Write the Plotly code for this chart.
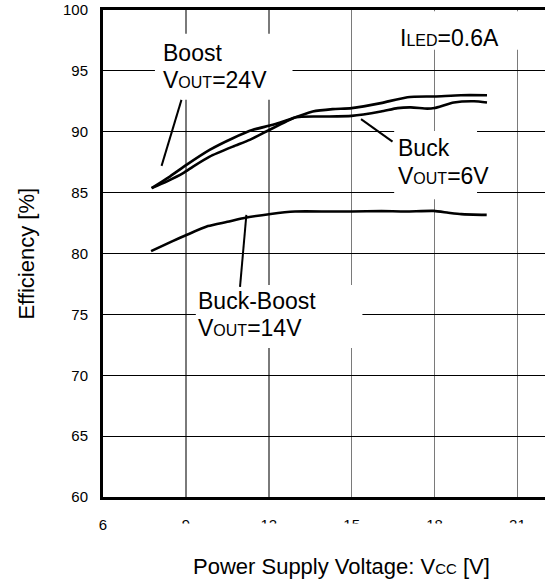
import plotly.graph_objects as go

# ---- data ----
boost_v = [7.76, 8.42, 9.02, 9.86, 10.70, 11.43, 12.15, 12.99, 13.59, 14.31, 15.0, 16.06, 17.02, 18.0, 18.95, 19.9]
boost_e = [85.37, 86.32, 87.28, 88.51, 89.47, 90.16, 90.57, 91.2, 91.66, 91.86, 91.94, 92.35, 92.84, 92.9, 93.0, 93.0]

buck_v = [7.76, 8.30, 8.90, 9.26, 9.86, 10.70, 11.31, 11.91, 12.63, 12.99, 13.9, 15.0, 16.06, 16.66, 17.14, 17.74, 18.0, 18.7, 19.43, 19.9]
buck_e = [85.37, 85.91, 86.6, 87.14, 87.96, 88.78, 89.33, 90.02, 90.84, 91.2, 91.25, 91.3, 91.66, 91.94, 92.0, 91.9, 91.95, 92.4, 92.5, 92.4]

bb_v = [7.74, 8.5, 9.0, 9.8, 10.5, 11.07, 12.07, 12.95, 14.2, 15.0, 16.08, 16.96, 17.97, 18.5, 18.97, 19.89]
bb_e = [80.2, 81.0, 81.5, 82.25, 82.6, 82.9, 83.25, 83.45, 83.45, 83.45, 83.48, 83.45, 83.5, 83.35, 83.23, 83.17]

x_ticks = [6, 9, 12, 15, 18, 21]
y_ticks = [60, 65, 70, 75, 80, 85, 90, 95, 100]

FONT = "Liberation Sans, Arial, Helvetica, sans-serif"
SUB = '<span style="font-size:16px">{}</span>'

fig = go.Figure()
for xs, ys, name in [(boost_v, boost_e, "Boost"), (buck_v, buck_e, "Buck"), (bb_v, bb_e, "Buck-Boost")]:
    fig.add_trace(go.Scatter(x=xs, y=ys, mode="lines", name=name,
                             line=dict(color="black", width=2.6, shape="spline", smoothing=0.6),
                             showlegend=False, hoverinfo="skip"))

shapes = []
# white label backgrounds (between gridlines and traces)
for x0, x1, y0, y1 in [(7.88, 12.86, 92.62, 98.05),
                       (16.0, 23.0, 96.73, 99.9),
                       (16.54, 19.54, 84.45, 90.07),
                       (9.36, 15.39, 72.24, 77.42)]:
    shapes.append(dict(type="rect", xref="x", yref="y", x0=x0, x1=x1, y0=y0, y1=y1,
                       fillcolor="white", line=dict(width=0), layer="between"))
# leader lines
for x0, y0, x1, y1 in [(8.84, 92.62, 8.12, 87.2),
                       (15.34, 91.04, 16.48, 89.19),
                       (11.19, 83.17, 10.96, 77.26)]:
    shapes.append(dict(type="line", xref="x", yref="y", x0=x0, y0=y0, x1=x1, y1=y1,
                       line=dict(color="black", width=2), layer="above"))
# clip lower half of the x tick labels 9..21 as in the reference
shapes.append(dict(type="rect", xref="paper", yref="paper", x0=0.03, x1=1.02, y0=-0.098, y1=-0.0545,
                   fillcolor="white", line=dict(width=0), layer="above"))

ann = []
def label(text, x, y):
    ann.append(dict(text=text, x=x, y=y, xref="x", yref="y", xanchor="left", yanchor="middle",
                    showarrow=False, font=dict(family=FONT, size=23, color="black"), borderpad=0))

label("Boost", 8.15, 96.44)
label("V" + SUB.format("OUT") + "=24V", 8.15, 94.29)
label("Buck", 16.66, 88.67)
label("V" + SUB.format("OUT") + "=6V", 16.66, 86.4)
label("Buck-Boost", 9.42, 76.07)
label("V" + SUB.format("OUT") + "=14V", 9.42, 73.88)
label("I" + SUB.format("LED") + "=0.6A", 16.72, 97.7)

ann.append(dict(text="Power Supply Voltage: V" + '<span style="font-size:15px">CC</span>' + " [V]",
                x=0.5385, y=-0.142, xref="paper", yref="paper",
                xanchor="center", yanchor="middle", showarrow=False,
                font=dict(family=FONT, size=22, color="black")))
ann.append(dict(text="Efficiency [%]", x=-0.174, y=0.5, xref="paper", yref="paper", textangle=-90,
                xanchor="center", yanchor="middle", showarrow=False,
                font=dict(family=FONT, size=22, color="black")))

fig.update_layout(
    width=545, height=584,
    margin=dict(l=103, r=0, t=10, b=87),
    paper_bgcolor="white", plot_bgcolor="white",
    font=dict(family=FONT, color="black"),
    shapes=shapes, annotations=ann,
    xaxis=dict(range=[6, 22], tickvals=x_ticks, ticktext=[str(v) for v in x_ticks],
               showgrid=True, gridcolor="#7a7a7a", gridwidth=1.6,
               showline=True, linecolor="black", linewidth=3, mirror=True,
               ticks="", ticklabelstandoff=12, tickfont=dict(size=15, family=FONT, color="black"),
               zeroline=False, fixedrange=True),
    yaxis=dict(range=[60, 100], tickvals=y_ticks, ticktext=[str(v) for v in y_ticks],
               showgrid=True, gridcolor="black", gridwidth=1,
               showline=True, linecolor="black", linewidth=3,
               ticks="", ticklabelstandoff=9, tickfont=dict(size=15, family=FONT, color="black"),
               zeroline=False, fixedrange=True),
)

fig.write_html("out.html",
               config={"displayModeBar": False, "staticPlot": True},
               post_script="document.body.style.margin='0';document.body.style.overflow='hidden';")
